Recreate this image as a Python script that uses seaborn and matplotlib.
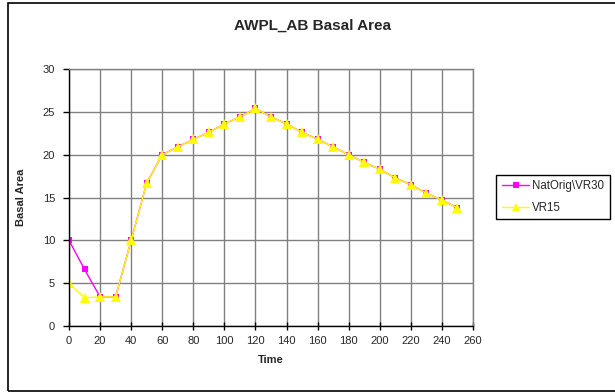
import pandas as pd
import numpy as np
import seaborn as sns
import matplotlib.pyplot as plt
from matplotlib.patches import Rectangle

# values
time = [0, 10, 20, 30, 40, 50, 60, 70, 80, 90, 100, 110, 120, 130,
        140, 150, 160, 170, 180, 190, 200, 210, 220, 230, 240, 250]
natorig_vr30 = [10.0, 6.6, 3.4, 3.4, 10.0, 16.7, 20.0, 20.9, 21.8, 22.6, 23.6, 24.4, 25.4,
                24.4, 23.6, 22.6, 21.8, 20.9, 20.0, 19.1, 18.3, 17.3, 16.5, 15.5, 14.7, 13.8]
vr15 = [5.0, 3.3, 3.4, 3.4, 10.0, 16.7, 20.0, 20.9, 21.8, 22.6, 23.6, 24.4, 25.4,
        24.4, 23.6, 22.6, 21.8, 20.9, 20.0, 19.1, 18.3, 17.3, 16.5, 15.5, 14.7, 13.8]
series_names = ['NatOrig\\VR30', 'VR15']

datos = pd.DataFrame({
    'Time': time * 2,
    'Basal Area': natorig_vr30 + vr15,
    'serie': [series_names[0]] * len(time) + [series_names[1]] * len(time),
})

sns.set_style('white')
plt.rcParams['font.family'] = ['Liberation Sans', 'DejaVu Sans']

fig = plt.figure(figsize=(6.15, 3.92), dpi=100)
ax = fig.add_axes([69 / 615, 1 - 326 / 392, (473 - 69) / 615, (326 - 69) / 392])

sns.lineplot(
    data=datos, x='Time', y='Basal Area', hue='serie', style='serie',
    palette={series_names[0]: '#ff00ff', series_names[1]: '#ffff00'},
    markers={series_names[0]: 's', series_names[1]: '^'},
    dashes=False, linewidth=1, markersize=5, markeredgewidth=0,
    ax=ax, legend=True
)

# bigger markers like the reference
for ln in ax.lines:
    if ln.get_marker() == 's':
        ln.set_markersize(4.8)
    elif ln.get_marker() == '^':
        ln.set_markersize(6.5)

ax.set_xlim(0, 260)
ax.set_ylim(0, 30)
ax.set_xticks(np.arange(0, 261, 20))
ax.set_yticks(np.arange(0, 31, 5))
ax.grid(True, color='#808080', linewidth=1)
ax.set_axisbelow(True)

for s in ['left', 'bottom']:
    ax.spines[s].set_color('black')
    ax.spines[s].set_linewidth(1)
for s in ['top', 'right']:
    ax.spines[s].set_color('#808080')
    ax.spines[s].set_linewidth(1)

ax.tick_params(axis='x', direction='inout', length=6, width=1, color='black',
               labelsize=8, pad=4, bottom=True)
ax.tick_params(axis='y', direction='out', length=4, width=1, color='black',
               labelsize=8, pad=6, left=True)

ax.set_xlabel('Time', fontsize=8, fontweight='bold', labelpad=7)
ax.set_ylabel('Basal Area', fontsize=8, fontweight='bold', labelpad=12)
fig.text(313 / 615, 1 - 26 / 392, 'AWPL_AB Basal Area', ha='center', va='center',
         fontsize=11, fontweight='bold')

handles, labels = ax.get_legend_handles_labels()
for h in handles:
    if h.get_marker() == 's':
        h.set_markersize(4.8)
    elif h.get_marker() == '^':
        h.set_markersize(6)
ax.legend(handles, labels, loc='center left', bbox_to_anchor=(496 / 615, 1 - 197 / 392),
          bbox_transform=fig.transFigure, fontsize=8.3, frameon=True, fancybox=False,
          edgecolor='black', framealpha=1, borderpad=0.5, handlelength=2.4,
          handletextpad=0.25, labelspacing=0.8, borderaxespad=0)
ax.get_legend().get_frame().set_linewidth(1)

# outer chart border
fig.patches.append(Rectangle((8 / 615, 1 / 392), 1.2, 1 - 4 / 392,
                             transform=fig.transFigure, fill=False,
                             edgecolor='black', linewidth=1.2, clip_on=False))

fig.savefig('out.png', dpi=100)
